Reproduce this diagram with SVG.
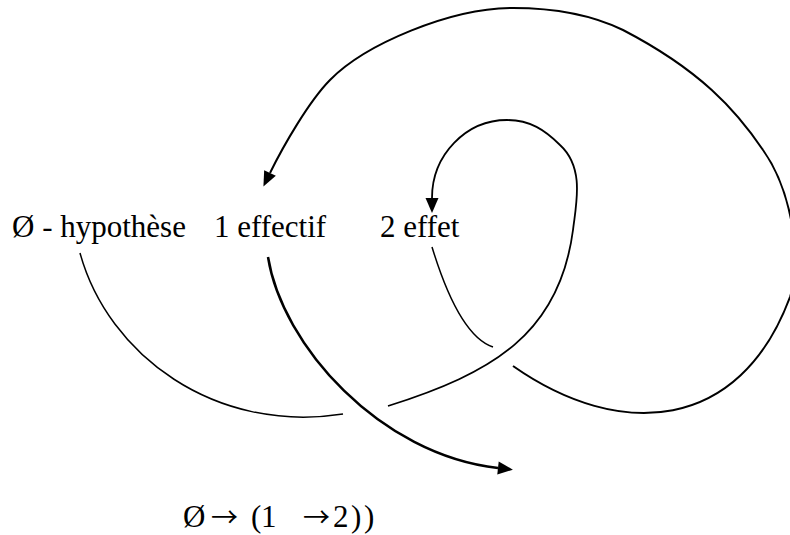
<svg xmlns="http://www.w3.org/2000/svg" width="790" height="535" viewBox="0 0 790 535">
<style>
.lbl{font-family:"Liberation Serif","Times New Roman",serif;font-size:31px;fill:#000}
.frm{font-family:"Liberation Serif","Times New Roman",serif;font-size:31px;fill:#000}
.arr{font-family:"Noto Sans CJK JP","DejaVu Sans",sans-serif;font-size:27px}
.c{fill:none;stroke:#000;stroke-linecap:butt}
</style>
<defs>
<marker id="ah" markerUnits="userSpaceOnUse" markerWidth="18" markerHeight="16" refX="0" refY="7" orient="auto" viewBox="0 0 18 16" overflow="visible">
<path d="M0,0.5 L15,7 L0,13.5 z" fill="#000"/>
</marker>
</defs>
<rect width="790" height="535" fill="#fff"/>
<g id="connectors">
<path id="outer" class="c" stroke-width="2" marker-end="url(#ah)" d="M513,366 C620,441 740,432 790,297 C803,255 790,188 763,150 C736,110 700,70 623,30 C590,14 553,8 513,8 C450,8 365,44.5 330,80 C309,101.3 283.2,146 270,173"/>
<path id="leftarc" class="c" stroke-width="1.5" d="M80,253 C108,355 215,434 343,414"/>
<path id="inner" class="c" stroke-width="1.8" marker-end="url(#ah)" d="M388,406 C492.5,373 559.4,334 573,230 C576,204 585,168 560,145 C545,130 530,120 507,120 C466,120 432,155 432,198"/>
<path id="effet" class="c" stroke-width="1.5" d="M432,247 C443,283 463,337 493,347"/>
<path id="effectif" class="c" stroke-width="2.5" marker-end="url(#ah)" d="M268,257 C282,345 380,455 498,468"/>
</g>
<g id="n0"><text class="lbl" x="12" y="237">Ø - hypothèse</text></g>
<g id="n1"><text class="lbl" x="214" y="237">1 effectif</text></g>
<g id="n2"><text class="lbl" x="380" y="237">2 effet</text></g>
<g id="formula"><text class="frm" y="527"><tspan x="183">Ø</tspan><tspan class="arr" x="211">→</tspan><tspan x="251">(</tspan><tspan x="261">1</tspan><tspan class="arr" x="303">→</tspan><tspan x="333">2</tspan><tspan x="351">)</tspan><tspan x="364">)</tspan></text></g>
</svg>
